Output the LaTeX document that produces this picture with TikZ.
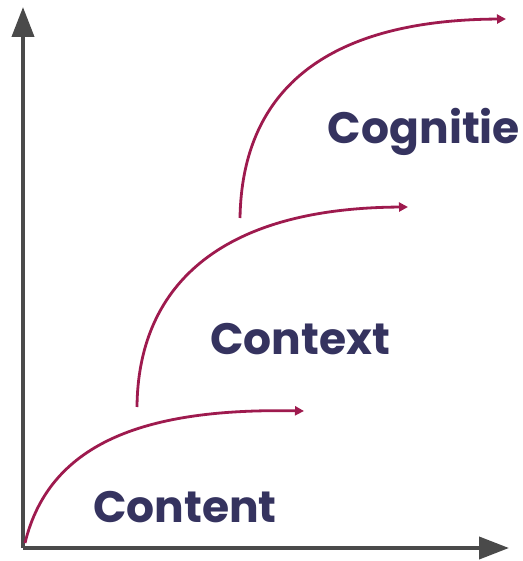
\documentclass[tikz,border=0pt]{standalone}
\usepackage{fontspec}
\setmainfont{Poppins}
\usetikzlibrary{arrows.meta}
\definecolor{axisgray}{HTML}{4A4A4A}
\definecolor{curvered}{HTML}{9E1A4E}
\definecolor{labelblue}{HTML}{35335F}
\tikzset{
  axis/.style={color=axisgray, line width=4pt, -{Triangle[length=30pt,width=22pt]}},
  growth/.style={color=curvered, line width=2.8pt, -{Triangle[length=9pt,width=9pt]}},
  stage/.style={color=labelblue, font=\fontsize{44}{44}\selectfont\bfseries, anchor=base}
}
\begin{document}
\begin{tikzpicture}[x=1pt,y=-1pt]
\useasboundingbox (0,0) rectangle (522,561);

\coordinate (o) at (23,548);
\coordinate (ytop) at (23,7);
\coordinate (xend) at (509,548);
\draw[axis] (o) -- (ytop);
\draw[axis] (o) -- (xend);

\draw[growth] (25,543) .. controls (50,440) and (150,408) .. (304,411);
\draw[growth] (137,407) .. controls (138,290) and (215,208) .. (408,207);
\draw[growth] (240,218) .. controls (242,95) and (320,20) .. (506,19);

\node[stage] (content) at (185,522) {Content};
\node[stage] (context) at (300,354) {Context};
\node[stage] (cognitie) at (424,144) {Cognitie};
\end{tikzpicture}
\end{document}
